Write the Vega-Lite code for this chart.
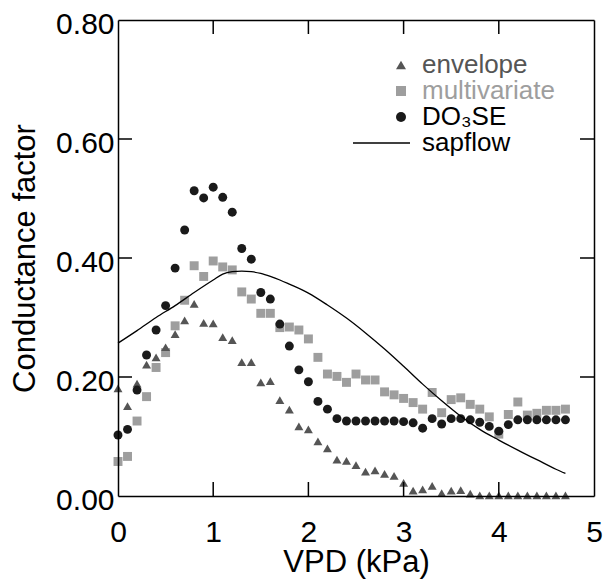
{
  "$schema": "https://vega.github.io/schema/vega-lite/v6.json",
  "width": 476,
  "height": 476,
  "autosize": {"type": "none"},
  "padding": {"left": 118, "top": 20, "right": 14, "bottom": 87},
  "config": {
    "font": "Liberation Sans",
    "view": {"stroke": null, "fill": null},
    "axis": {
      "grid": false,
      "domainColor": "#000000",
      "domainWidth": 1.5,
      "tickColor": "#000000",
      "tickWidth": 1.5,
      "labelColor": "#000000",
      "labelFont": "Liberation Sans",
      "labelFontSize": 30,
      "titleFont": "Liberation Sans",
      "titleFontSize": 31,
      "titleFontWeight": "normal",
      "titleColor": "#000000",
      "labelFlush": false,
      "labelOverlap": false
    }
  },
  "datasets": {
    "xt": [{"v": 1}, {"v": 2}, {"v": 3}, {"v": 4}],
    "yt": [{"v": 0.2}, {"v": 0.4}, {"v": 0.6}],
    "pts": [
      {"s": "multivariate", "x": 0.0, "y": 0.058},
      {"s": "multivariate", "x": 0.1, "y": 0.0665},
      {"s": "multivariate", "x": 0.2, "y": 0.126},
      {"s": "multivariate", "x": 0.3, "y": 0.167},
      {"s": "multivariate", "x": 0.4, "y": 0.216},
      {"s": "multivariate", "x": 0.5, "y": 0.241},
      {"s": "multivariate", "x": 0.6, "y": 0.286},
      {"s": "multivariate", "x": 0.7, "y": 0.329},
      {"s": "multivariate", "x": 0.8, "y": 0.387},
      {"s": "multivariate", "x": 0.9, "y": 0.369},
      {"s": "multivariate", "x": 1.0, "y": 0.395},
      {"s": "multivariate", "x": 1.1, "y": 0.385},
      {"s": "multivariate", "x": 1.2, "y": 0.38},
      {"s": "multivariate", "x": 1.3, "y": 0.343},
      {"s": "multivariate", "x": 1.4, "y": 0.331},
      {"s": "multivariate", "x": 1.5, "y": 0.307},
      {"s": "multivariate", "x": 1.6, "y": 0.307},
      {"s": "multivariate", "x": 1.7, "y": 0.283},
      {"s": "multivariate", "x": 1.8, "y": 0.284},
      {"s": "multivariate", "x": 1.9, "y": 0.279},
      {"s": "multivariate", "x": 2.0, "y": 0.264},
      {"s": "multivariate", "x": 2.1, "y": 0.233},
      {"s": "multivariate", "x": 2.2, "y": 0.205},
      {"s": "multivariate", "x": 2.3, "y": 0.201},
      {"s": "multivariate", "x": 2.4, "y": 0.191},
      {"s": "multivariate", "x": 2.5, "y": 0.205},
      {"s": "multivariate", "x": 2.6, "y": 0.195},
      {"s": "multivariate", "x": 2.7, "y": 0.195},
      {"s": "multivariate", "x": 2.8, "y": 0.175},
      {"s": "multivariate", "x": 2.9, "y": 0.17},
      {"s": "multivariate", "x": 3.0, "y": 0.164},
      {"s": "multivariate", "x": 3.1, "y": 0.157},
      {"s": "multivariate", "x": 3.2, "y": 0.146},
      {"s": "multivariate", "x": 3.3, "y": 0.174},
      {"s": "multivariate", "x": 3.4, "y": 0.14},
      {"s": "multivariate", "x": 3.5, "y": 0.162},
      {"s": "multivariate", "x": 3.6, "y": 0.165},
      {"s": "multivariate", "x": 3.7, "y": 0.154},
      {"s": "multivariate", "x": 3.8, "y": 0.146},
      {"s": "multivariate", "x": 3.9, "y": 0.133},
      {"s": "multivariate", "x": 4.0, "y": 0.104},
      {"s": "multivariate", "x": 4.1, "y": 0.137},
      {"s": "multivariate", "x": 4.2, "y": 0.158},
      {"s": "multivariate", "x": 4.3, "y": 0.136},
      {"s": "multivariate", "x": 4.4, "y": 0.139},
      {"s": "multivariate", "x": 4.5, "y": 0.144},
      {"s": "multivariate", "x": 4.6, "y": 0.144},
      {"s": "multivariate", "x": 4.7, "y": 0.146},
      {"s": "envelope", "x": 0.0, "y": 0.181},
      {"s": "envelope", "x": 0.1, "y": 0.151},
      {"s": "envelope", "x": 0.2, "y": 0.189},
      {"s": "envelope", "x": 0.3, "y": 0.221},
      {"s": "envelope", "x": 0.4, "y": 0.233},
      {"s": "envelope", "x": 0.5, "y": 0.25},
      {"s": "envelope", "x": 0.6, "y": 0.272},
      {"s": "envelope", "x": 0.7, "y": 0.295},
      {"s": "envelope", "x": 0.8, "y": 0.323},
      {"s": "envelope", "x": 0.9, "y": 0.291},
      {"s": "envelope", "x": 1.0, "y": 0.29},
      {"s": "envelope", "x": 1.1, "y": 0.267},
      {"s": "envelope", "x": 1.2, "y": 0.262},
      {"s": "envelope", "x": 1.3, "y": 0.225},
      {"s": "envelope", "x": 1.4, "y": 0.225},
      {"s": "envelope", "x": 1.5, "y": 0.191},
      {"s": "envelope", "x": 1.6, "y": 0.193},
      {"s": "envelope", "x": 1.7, "y": 0.161},
      {"s": "envelope", "x": 1.8, "y": 0.145},
      {"s": "envelope", "x": 1.9, "y": 0.117},
      {"s": "envelope", "x": 2.0, "y": 0.112},
      {"s": "envelope", "x": 2.1, "y": 0.092},
      {"s": "envelope", "x": 2.2, "y": 0.08},
      {"s": "envelope", "x": 2.3, "y": 0.061},
      {"s": "envelope", "x": 2.4, "y": 0.059},
      {"s": "envelope", "x": 2.5, "y": 0.052},
      {"s": "envelope", "x": 2.6, "y": 0.041},
      {"s": "envelope", "x": 2.7, "y": 0.043},
      {"s": "envelope", "x": 2.8, "y": 0.037},
      {"s": "envelope", "x": 2.9, "y": 0.034},
      {"s": "envelope", "x": 3.0, "y": 0.022},
      {"s": "envelope", "x": 3.1, "y": 0.009},
      {"s": "envelope", "x": 3.2, "y": 0.011},
      {"s": "envelope", "x": 3.3, "y": 0.017},
      {"s": "envelope", "x": 3.4, "y": 0.005},
      {"s": "envelope", "x": 3.5, "y": 0.009},
      {"s": "envelope", "x": 3.6, "y": 0.01},
      {"s": "envelope", "x": 3.7, "y": 0.004},
      {"s": "envelope", "x": 3.8, "y": 0.001},
      {"s": "envelope", "x": 3.9, "y": 0.001},
      {"s": "envelope", "x": 4.0, "y": 0.001},
      {"s": "envelope", "x": 4.1, "y": 0.001},
      {"s": "envelope", "x": 4.2, "y": 0.001},
      {"s": "envelope", "x": 4.3, "y": 0.001},
      {"s": "envelope", "x": 4.4, "y": 0.001},
      {"s": "envelope", "x": 4.5, "y": 0.001},
      {"s": "envelope", "x": 4.6, "y": 0.001},
      {"s": "envelope", "x": 4.7, "y": 0.001},
      {"s": "DO₃SE", "x": 0.0, "y": 0.1025},
      {"s": "DO₃SE", "x": 0.1, "y": 0.112},
      {"s": "DO₃SE", "x": 0.2, "y": 0.178},
      {"s": "DO₃SE", "x": 0.3, "y": 0.237},
      {"s": "DO₃SE", "x": 0.4, "y": 0.279},
      {"s": "DO₃SE", "x": 0.5, "y": 0.32},
      {"s": "DO₃SE", "x": 0.6, "y": 0.383},
      {"s": "DO₃SE", "x": 0.7, "y": 0.447},
      {"s": "DO₃SE", "x": 0.8, "y": 0.513},
      {"s": "DO₃SE", "x": 0.9, "y": 0.501},
      {"s": "DO₃SE", "x": 1.0, "y": 0.519},
      {"s": "DO₃SE", "x": 1.1, "y": 0.502},
      {"s": "DO₃SE", "x": 1.2, "y": 0.477},
      {"s": "DO₃SE", "x": 1.3, "y": 0.416},
      {"s": "DO₃SE", "x": 1.4, "y": 0.398},
      {"s": "DO₃SE", "x": 1.5, "y": 0.342},
      {"s": "DO₃SE", "x": 1.6, "y": 0.331},
      {"s": "DO₃SE", "x": 1.7, "y": 0.289},
      {"s": "DO₃SE", "x": 1.8, "y": 0.252},
      {"s": "DO₃SE", "x": 1.9, "y": 0.212},
      {"s": "DO₃SE", "x": 2.0, "y": 0.192},
      {"s": "DO₃SE", "x": 2.1, "y": 0.159},
      {"s": "DO₃SE", "x": 2.2, "y": 0.146},
      {"s": "DO₃SE", "x": 2.3, "y": 0.13},
      {"s": "DO₃SE", "x": 2.4, "y": 0.126},
      {"s": "DO₃SE", "x": 2.5, "y": 0.126},
      {"s": "DO₃SE", "x": 2.6, "y": 0.126},
      {"s": "DO₃SE", "x": 2.7, "y": 0.126},
      {"s": "DO₃SE", "x": 2.8, "y": 0.126},
      {"s": "DO₃SE", "x": 2.9, "y": 0.126},
      {"s": "DO₃SE", "x": 3.0, "y": 0.125},
      {"s": "DO₃SE", "x": 3.1, "y": 0.123},
      {"s": "DO₃SE", "x": 3.2, "y": 0.114},
      {"s": "DO₃SE", "x": 3.3, "y": 0.13},
      {"s": "DO₃SE", "x": 3.4, "y": 0.121},
      {"s": "DO₃SE", "x": 3.5, "y": 0.13},
      {"s": "DO₃SE", "x": 3.6, "y": 0.13},
      {"s": "DO₃SE", "x": 3.7, "y": 0.128},
      {"s": "DO₃SE", "x": 3.8, "y": 0.124},
      {"s": "DO₃SE", "x": 3.9, "y": 0.117},
      {"s": "DO₃SE", "x": 4.0, "y": 0.109},
      {"s": "DO₃SE", "x": 4.1, "y": 0.12},
      {"s": "DO₃SE", "x": 4.2, "y": 0.128},
      {"s": "DO₃SE", "x": 4.3, "y": 0.128},
      {"s": "DO₃SE", "x": 4.4, "y": 0.128},
      {"s": "DO₃SE", "x": 4.5, "y": 0.128},
      {"s": "DO₃SE", "x": 4.6, "y": 0.128},
      {"s": "DO₃SE", "x": 4.7, "y": 0.128}
    ],
    "sap": [
      {"x": 0.0, "y": 0.257},
      {"x": 0.2, "y": 0.278},
      {"x": 0.4, "y": 0.3},
      {"x": 0.6, "y": 0.32},
      {"x": 0.8, "y": 0.342},
      {"x": 1.0, "y": 0.363},
      {"x": 1.1, "y": 0.373},
      {"x": 1.2, "y": 0.377},
      {"x": 1.3, "y": 0.378},
      {"x": 1.4, "y": 0.377},
      {"x": 1.5, "y": 0.374},
      {"x": 1.6, "y": 0.369},
      {"x": 1.7, "y": 0.363},
      {"x": 1.8, "y": 0.356},
      {"x": 2.0, "y": 0.341},
      {"x": 2.2, "y": 0.321},
      {"x": 2.4, "y": 0.299},
      {"x": 2.6, "y": 0.274},
      {"x": 2.8, "y": 0.247},
      {"x": 3.0, "y": 0.218},
      {"x": 3.2, "y": 0.188},
      {"x": 3.4, "y": 0.16},
      {"x": 3.6, "y": 0.134},
      {"x": 3.8, "y": 0.112},
      {"x": 4.0, "y": 0.094},
      {"x": 4.2, "y": 0.077},
      {"x": 4.4, "y": 0.061},
      {"x": 4.6, "y": 0.045},
      {"x": 4.7, "y": 0.038}
    ]
  },
  "layer": [
    {
      "data": {"name": "pts"},
      "mark": {"type": "point", "filled": true, "opacity": 1, "size": 80},
      "encoding": {
        "x": {
          "field": "x", "type": "quantitative",
          "scale": {"domain": [0, 5], "nice": false, "zero": false},
          "axis": {"values": [0, 1, 2, 3, 4, 5], "title": "VPD (kPa)", "ticks": false, "tickSize": 0, "labelPadding": 21, "titlePadding": 0, "zindex": 1}
        },
        "y": {
          "field": "y", "type": "quantitative",
          "scale": {"domain": [0, 0.8], "nice": false},
          "axis": {"values": [0, 0.2, 0.4, 0.6, 0.8], "format": ".2f", "title": "Conductance factor", "ticks": false, "tickSize": 0, "labelPadding": 4, "labelOffset": 4, "titlePadding": 14, "zindex": 1}
        },
        "color": {
          "field": "s", "type": "nominal",
          "scale": {"domain": ["envelope", "multivariate", "DO₃SE", "sapflow"], "range": ["#555555", "#9e9e9e", "#1a1a1a", "#000000"]},
          "legend": {
            "title": null, "orient": "none", "legendX": 270, "legendY": 32,
            "labelFontSize": 26, "labelFont": "Liberation Sans", "symbolSize": 100, "rowPadding": -1, "labelOffset": 8, "padding": 0,
            "labelColor": {"expr": "datum.value === 'envelope' ? '#555555' : datum.value === 'multivariate' ? '#9e9e9e' : '#000000'"},
            "symbolStrokeColor": {"expr": "datum.value === 'sapflow' ? '#000000' : 'transparent'"},
            "symbolStrokeWidth": 1.5
          }
        },
        "shape": {
          "field": "s", "type": "nominal",
          "scale": {"domain": ["envelope", "multivariate", "DO₃SE", "sapflow"], "range": ["triangle-up", "square", "circle", "M-9.6,0H1.8"]},
          "legend": {
            "title": null, "orient": "none", "legendX": 270, "legendY": 32,
            "labelFontSize": 26, "labelFont": "Liberation Sans", "symbolSize": 100, "rowPadding": -1, "labelOffset": 8, "padding": 0,
            "labelColor": {"expr": "datum.value === 'envelope' ? '#555555' : datum.value === 'multivariate' ? '#9e9e9e' : '#000000'"},
            "symbolStrokeColor": {"expr": "datum.value === 'sapflow' ? '#000000' : 'transparent'"},
            "symbolStrokeWidth": 1.5
          }
        }
      }
    },
    {
      "data": {"name": "sap"},
      "mark": {"type": "line", "color": "#000000", "strokeWidth": 1.3, "interpolate": "monotone"},
      "encoding": {
        "x": {
          "field": "x", "type": "quantitative",
          "scale": {"domain": [0, 5], "nice": false, "zero": false},
          "axis": {"orient": "top", "values": [0, 1, 2, 3, 4, 5], "labels": false, "ticks": false, "title": null, "zindex": 1}
        },
        "y": {
          "field": "y", "type": "quantitative",
          "scale": {"domain": [0, 0.8], "nice": false},
          "axis": {"orient": "right", "values": [0, 0.2, 0.4, 0.6, 0.8], "labels": false, "ticks": false, "title": null, "zindex": 1}
        }
      }
    },
    {
      "data": {"name": "xt"},
      "mark": {"type": "rule", "color": "#000000", "strokeWidth": 1.5},
      "encoding": {
        "x": {"field": "v", "type": "quantitative", "scale": {"domain": [0, 5], "nice": false, "zero": false}, "axis": null},
        "y": {"datum": 0, "type": "quantitative", "scale": {"domain": [0, 0.8], "nice": false}, "axis": null},
        "y2": {"datum": 0.0235}
      }
    },
    {
      "data": {"name": "xt"},
      "mark": {"type": "rule", "color": "#000000", "strokeWidth": 1.5},
      "encoding": {
        "x": {"field": "v", "type": "quantitative", "scale": {"domain": [0, 5], "nice": false, "zero": false}, "axis": null},
        "y": {"datum": 0.8, "type": "quantitative", "scale": {"domain": [0, 0.8], "nice": false}, "axis": null},
        "y2": {"datum": 0.7765}
      }
    },
    {
      "data": {"name": "yt"},
      "mark": {"type": "rule", "color": "#000000", "strokeWidth": 1.5},
      "encoding": {
        "y": {"field": "v", "type": "quantitative", "scale": {"domain": [0, 0.8], "nice": false}, "axis": null},
        "x": {"datum": 0, "type": "quantitative", "scale": {"domain": [0, 5], "nice": false, "zero": false}, "axis": null},
        "x2": {"datum": 0.147}
      }
    },
    {
      "data": {"name": "yt"},
      "mark": {"type": "rule", "color": "#000000", "strokeWidth": 1.5},
      "encoding": {
        "y": {"field": "v", "type": "quantitative", "scale": {"domain": [0, 0.8], "nice": false}, "axis": null},
        "x": {"datum": 5, "type": "quantitative", "scale": {"domain": [0, 5], "nice": false, "zero": false}, "axis": null},
        "x2": {"datum": 4.853}
      }
    }
  ],
  "resolve": {"axis": {"x": "independent", "y": "independent"}}
}
